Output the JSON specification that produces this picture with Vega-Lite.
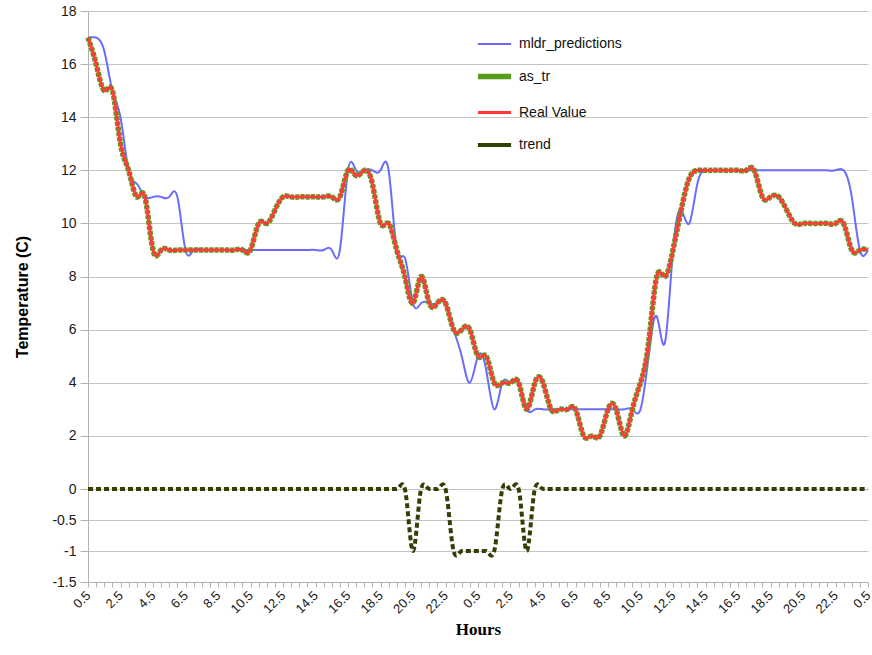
{
"$schema":"https://vega.github.io/schema/vega-lite/v6.json",
"width":780,"height":571,
"autosize":{"type":"none"},
"padding":{"left":88,"top":11,"right":4,"bottom":73},
"background":"white",
"config":{"font":"Liberation Sans","view":{"stroke":null},
 "legend":{"orient":"none","legendX":387,"legendY":15,"symbolType":"stroke","symbolSize":1100,"labelFontSize":14,"labelFont":"Liberation Sans","labelColor":"#111","rowPadding":6,"labelOffset":5,"padding":0,"title":null}},
"data":{"values":[
{"i":0,"mldr_predictions":17,"as_tr":17,"Real Value":17,"trend":0},
{"i":1,"mldr_predictions":17,"as_tr":16,"Real Value":16,"trend":0},
{"i":2,"mldr_predictions":16.5,"as_tr":15,"Real Value":15,"trend":0},
{"i":3,"mldr_predictions":15,"as_tr":15,"Real Value":15,"trend":0},
{"i":4,"mldr_predictions":14,"as_tr":13,"Real Value":13,"trend":0},
{"i":5,"mldr_predictions":12,"as_tr":12,"Real Value":12,"trend":0},
{"i":6,"mldr_predictions":11.5,"as_tr":11,"Real Value":11,"trend":0},
{"i":7,"mldr_predictions":11,"as_tr":11,"Real Value":11,"trend":0},
{"i":8,"mldr_predictions":11,"as_tr":9,"Real Value":9,"trend":0},
{"i":9,"mldr_predictions":11,"as_tr":9,"Real Value":9,"trend":0},
{"i":10,"mldr_predictions":11,"as_tr":9,"Real Value":9,"trend":0},
{"i":11,"mldr_predictions":11,"as_tr":9,"Real Value":9,"trend":0},
{"i":12,"mldr_predictions":9,"as_tr":9,"Real Value":9,"trend":0},
{"i":13,"mldr_predictions":9,"as_tr":9,"Real Value":9,"trend":0},
{"i":14,"mldr_predictions":9,"as_tr":9,"Real Value":9,"trend":0},
{"i":15,"mldr_predictions":9,"as_tr":9,"Real Value":9,"trend":0},
{"i":16,"mldr_predictions":9,"as_tr":9,"Real Value":9,"trend":0},
{"i":17,"mldr_predictions":9,"as_tr":9,"Real Value":9,"trend":0},
{"i":18,"mldr_predictions":9,"as_tr":9,"Real Value":9,"trend":0},
{"i":19,"mldr_predictions":9,"as_tr":9,"Real Value":9,"trend":0},
{"i":20,"mldr_predictions":9,"as_tr":9,"Real Value":9,"trend":0},
{"i":21,"mldr_predictions":9,"as_tr":10,"Real Value":10,"trend":0},
{"i":22,"mldr_predictions":9,"as_tr":10,"Real Value":10,"trend":0},
{"i":23,"mldr_predictions":9,"as_tr":10.5,"Real Value":10.5,"trend":0},
{"i":24,"mldr_predictions":9,"as_tr":11,"Real Value":11,"trend":0},
{"i":25,"mldr_predictions":9,"as_tr":11,"Real Value":11,"trend":0},
{"i":26,"mldr_predictions":9,"as_tr":11,"Real Value":11,"trend":0},
{"i":27,"mldr_predictions":9,"as_tr":11,"Real Value":11,"trend":0},
{"i":28,"mldr_predictions":9,"as_tr":11,"Real Value":11,"trend":0},
{"i":29,"mldr_predictions":9,"as_tr":11,"Real Value":11,"trend":0},
{"i":30,"mldr_predictions":9,"as_tr":11,"Real Value":11,"trend":0},
{"i":31,"mldr_predictions":9,"as_tr":11,"Real Value":11,"trend":0},
{"i":32,"mldr_predictions":12,"as_tr":12,"Real Value":12,"trend":0},
{"i":33,"mldr_predictions":12,"as_tr":11.8,"Real Value":11.8,"trend":0},
{"i":34,"mldr_predictions":12,"as_tr":12,"Real Value":12,"trend":0},
{"i":35,"mldr_predictions":12,"as_tr":11.5,"Real Value":11.5,"trend":0},
{"i":36,"mldr_predictions":12,"as_tr":10,"Real Value":10,"trend":0},
{"i":37,"mldr_predictions":12,"as_tr":10,"Real Value":10,"trend":0},
{"i":38,"mldr_predictions":9,"as_tr":9,"Real Value":9,"trend":0},
{"i":39,"mldr_predictions":8.7,"as_tr":8,"Real Value":8,"trend":0},
{"i":40,"mldr_predictions":7,"as_tr":7,"Real Value":7,"trend":-1},
{"i":41,"mldr_predictions":7,"as_tr":8,"Real Value":8,"trend":0},
{"i":42,"mldr_predictions":7,"as_tr":7,"Real Value":7,"trend":0},
{"i":43,"mldr_predictions":7,"as_tr":7,"Real Value":7,"trend":0},
{"i":44,"mldr_predictions":7,"as_tr":7,"Real Value":7,"trend":0},
{"i":45,"mldr_predictions":6,"as_tr":6,"Real Value":6,"trend":-1},
{"i":46,"mldr_predictions":5,"as_tr":6,"Real Value":6,"trend":-1},
{"i":47,"mldr_predictions":4,"as_tr":6,"Real Value":6,"trend":-1},
{"i":48,"mldr_predictions":5,"as_tr":5,"Real Value":5,"trend":-1},
{"i":49,"mldr_predictions":4.5,"as_tr":5,"Real Value":5,"trend":-1},
{"i":50,"mldr_predictions":3,"as_tr":4,"Real Value":4,"trend":-1},
{"i":51,"mldr_predictions":4,"as_tr":4,"Real Value":4,"trend":0},
{"i":52,"mldr_predictions":4,"as_tr":4,"Real Value":4,"trend":0},
{"i":53,"mldr_predictions":4,"as_tr":4,"Real Value":4,"trend":0},
{"i":54,"mldr_predictions":3,"as_tr":3,"Real Value":3,"trend":-1},
{"i":55,"mldr_predictions":3,"as_tr":4,"Real Value":4,"trend":0},
{"i":56,"mldr_predictions":3,"as_tr":4,"Real Value":4,"trend":0},
{"i":57,"mldr_predictions":3,"as_tr":3,"Real Value":3,"trend":0},
{"i":58,"mldr_predictions":3,"as_tr":3,"Real Value":3,"trend":0},
{"i":59,"mldr_predictions":3,"as_tr":3,"Real Value":3,"trend":0},
{"i":60,"mldr_predictions":3,"as_tr":3,"Real Value":3,"trend":0},
{"i":61,"mldr_predictions":3,"as_tr":2,"Real Value":2,"trend":0},
{"i":62,"mldr_predictions":3,"as_tr":2,"Real Value":2,"trend":0},
{"i":63,"mldr_predictions":3,"as_tr":2,"Real Value":2,"trend":0},
{"i":64,"mldr_predictions":3,"as_tr":3,"Real Value":3,"trend":0},
{"i":65,"mldr_predictions":3,"as_tr":3,"Real Value":3,"trend":0},
{"i":66,"mldr_predictions":3,"as_tr":2,"Real Value":2,"trend":0},
{"i":67,"mldr_predictions":3,"as_tr":3,"Real Value":3,"trend":0},
{"i":68,"mldr_predictions":3,"as_tr":4,"Real Value":4,"trend":0},
{"i":69,"mldr_predictions":5,"as_tr":5.5,"Real Value":5.5,"trend":0},
{"i":70,"mldr_predictions":6.5,"as_tr":8,"Real Value":8,"trend":0},
{"i":71,"mldr_predictions":5.5,"as_tr":8,"Real Value":8,"trend":0},
{"i":72,"mldr_predictions":9,"as_tr":9,"Real Value":9,"trend":0},
{"i":73,"mldr_predictions":10.5,"as_tr":10.5,"Real Value":10.5,"trend":0},
{"i":74,"mldr_predictions":10,"as_tr":11.7,"Real Value":11.7,"trend":0},
{"i":75,"mldr_predictions":11.5,"as_tr":12,"Real Value":12,"trend":0},
{"i":76,"mldr_predictions":12,"as_tr":12,"Real Value":12,"trend":0},
{"i":77,"mldr_predictions":12,"as_tr":12,"Real Value":12,"trend":0},
{"i":78,"mldr_predictions":12,"as_tr":12,"Real Value":12,"trend":0},
{"i":79,"mldr_predictions":12,"as_tr":12,"Real Value":12,"trend":0},
{"i":80,"mldr_predictions":12,"as_tr":12,"Real Value":12,"trend":0},
{"i":81,"mldr_predictions":12,"as_tr":12,"Real Value":12,"trend":0},
{"i":82,"mldr_predictions":12,"as_tr":12,"Real Value":12,"trend":0},
{"i":83,"mldr_predictions":12,"as_tr":11,"Real Value":11,"trend":0},
{"i":84,"mldr_predictions":12,"as_tr":11,"Real Value":11,"trend":0},
{"i":85,"mldr_predictions":12,"as_tr":11,"Real Value":11,"trend":0},
{"i":86,"mldr_predictions":12,"as_tr":10.5,"Real Value":10.5,"trend":0},
{"i":87,"mldr_predictions":12,"as_tr":10,"Real Value":10,"trend":0},
{"i":88,"mldr_predictions":12,"as_tr":10,"Real Value":10,"trend":0},
{"i":89,"mldr_predictions":12,"as_tr":10,"Real Value":10,"trend":0},
{"i":90,"mldr_predictions":12,"as_tr":10,"Real Value":10,"trend":0},
{"i":91,"mldr_predictions":12,"as_tr":10,"Real Value":10,"trend":0},
{"i":92,"mldr_predictions":12,"as_tr":10,"Real Value":10,"trend":0},
{"i":93,"mldr_predictions":12,"as_tr":10,"Real Value":10,"trend":0},
{"i":94,"mldr_predictions":11,"as_tr":9,"Real Value":9,"trend":0},
{"i":95,"mldr_predictions":9,"as_tr":9,"Real Value":9,"trend":0},
{"i":96,"mldr_predictions":9,"as_tr":9,"Real Value":9,"trend":0}
]},
"transform":[{"fold":["mldr_predictions","as_tr","Real Value","trend"],"as":["series","value"]}],
"encoding":{
 "x":{"field":"i","type":"quantitative","scale":{"domain":[0,96],"nice":false,"zero":false},
  "axis":{"title":"Hours","titleFont":"Liberation Serif","titleFontSize":17,"titleFontWeight":"bold","titleColor":"#000","titlePadding":6,
   "tickCount":96,"labelExpr":"datum.value % 4 === 0 ? toString((datum.value / 2 + 0.5) % 24) : ''",
   "labelAngle":-45,"labelAlign":"right","labelBaseline":"middle","labelFontSize":13,"labelColor":"#1a1a1a","labelOverlap":false,"labelFlush":false,"labelPadding":6,
   "grid":false,"domainColor":"#b3b3b3","tickColor":"#b3b3b3","tickSize":5}},
 "y":{"field":"value","type":"quantitative","scale":{"domain":[-1.5,0,18],"range":[571,478,0],"nice":false,"zero":false},
  "axis":{"title":"Temperature (C)","titleFontSize":16,"titleFontWeight":"bold","titleColor":"#000","titlePadding":21,
   "values":[-1.5,-1,-0.5,0,2,4,6,8,10,12,14,16,18],"labelExpr":"toString(datum.value)","labelFontSize":14,"labelColor":"#1a1a1a","labelPadding":4,
   "grid":true,"gridColor":"#c4c4c4","domainColor":"#b3b3b3","tickColor":"#b3b3b3","tickSize":8}},
 "color":{"field":"series","type":"nominal","scale":{"domain":["mldr_predictions","as_tr","Real Value","trend"],"range":["#6b6bff","#579d1c","#ff3b3b","#314004"]},"legend":{"title":null}},
 "strokeWidth":{"field":"series","type":"nominal","scale":{"type":"ordinal","domain":["mldr_predictions","as_tr","Real Value","trend"],"range":[2,5.5,3,4]},"legend":{"title":null}}
},
"layer":[
 {"transform":[{"filter":"datum.series === 'mldr_predictions'"}],"mark":{"type":"line","interpolate":"natural","strokeCap":"butt","strokeJoin":"round"}},
 {"transform":[{"filter":"datum.series === 'as_tr'"}],"mark":{"type":"line","interpolate":"natural","strokeCap":"butt","strokeJoin":"round","strokeDash":[4,1.2]}},
 {"transform":[{"filter":"datum.series === 'Real Value'"}],"mark":{"type":"line","interpolate":"natural","strokeCap":"butt","strokeJoin":"round"}},
 {"transform":[{"filter":"datum.series === 'trend'"}],"mark":{"type":"line","interpolate":"cardinal","tension":0,"strokeCap":"butt","strokeJoin":"round","strokeDash":[5,3]}}
]
}
